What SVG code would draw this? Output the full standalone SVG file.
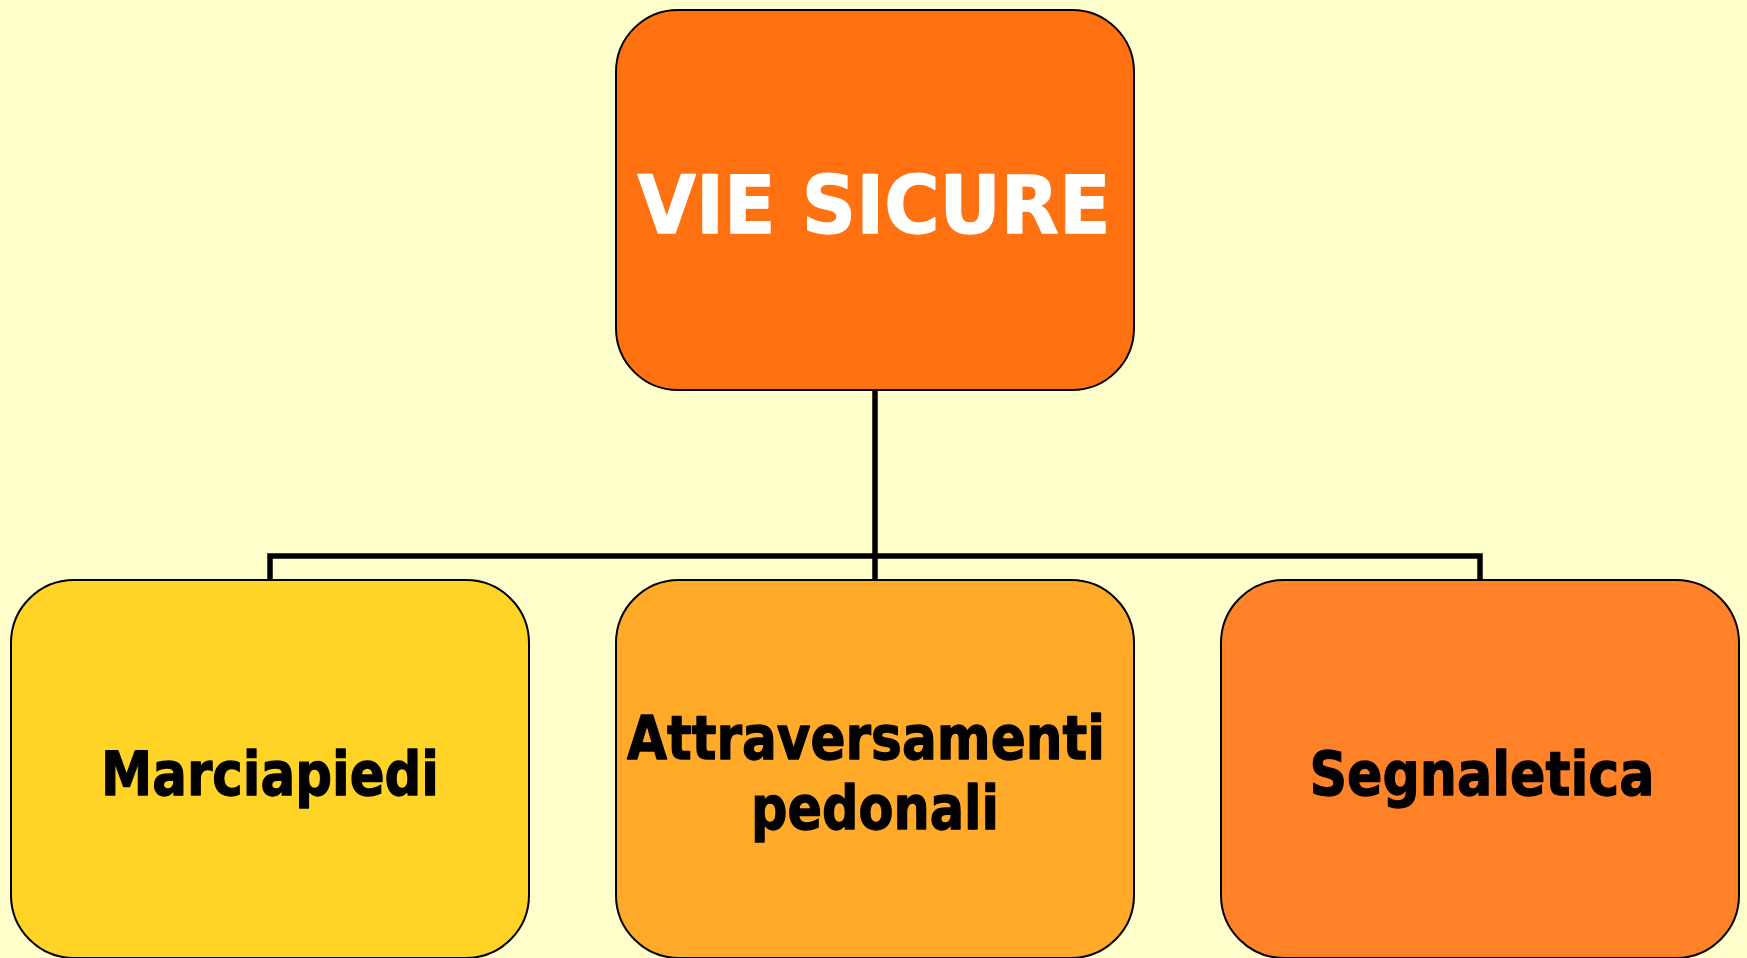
<svg xmlns="http://www.w3.org/2000/svg" width="1747" height="958" viewBox="0 0 1747 958">
<style>
.box{stroke:#000;stroke-width:2}
.lbl{font-family:"DejaVu Sans","Liberation Sans",sans-serif;font-weight:bold;text-anchor:middle;stroke-width:1.3;stroke-linejoin:round}
.dark{fill:#000;stroke:#000}
.light{fill:#FFFFFF;stroke:#FFFFFF}
.conn{fill:none;stroke:#000;stroke-width:5.5}
</style>
<rect width="1747" height="958" fill="#FFFFCC"/>
<g id="connectors">
<line class="conn" x1="875" y1="390" x2="875" y2="580"/>
<path class="conn" d="M270 580 V556 H1480 V580"/>
</g>
<g id="node-vie-sicure">
<rect class="box" x="616" y="10" width="518" height="380" rx="62" ry="62" fill="#FF7111"/>
<text class="lbl light" x="874" y="233" font-size="81" textLength="473" lengthAdjust="spacingAndGlyphs">VIE SICURE</text>
</g>
<g id="node-marciapiedi">
<rect class="box" x="11" y="580" width="518" height="378" rx="63" ry="63" fill="#FFD427"/>
<text class="lbl dark" x="270" y="795" font-size="60" textLength="338" lengthAdjust="spacingAndGlyphs">Marciapiedi</text>
</g>
<g id="node-attraversamenti">
<rect class="box" x="616" y="580" width="518" height="378" rx="63" ry="63" fill="#FFAA29"/>
<text class="lbl dark" x="866" y="759" font-size="60" textLength="478" lengthAdjust="spacingAndGlyphs">Attraversamenti</text>
<text class="lbl dark" x="875" y="829" font-size="60" textLength="248" lengthAdjust="spacingAndGlyphs">pedonali</text>
</g>
<g id="node-segnaletica">
<rect class="box" x="1221" y="580" width="518" height="378" rx="63" ry="63" fill="#FF8228"/>
<text class="lbl dark" x="1482" y="795" font-size="60" textLength="345" lengthAdjust="spacingAndGlyphs">Segnaletica</text>
</g>
</svg>
